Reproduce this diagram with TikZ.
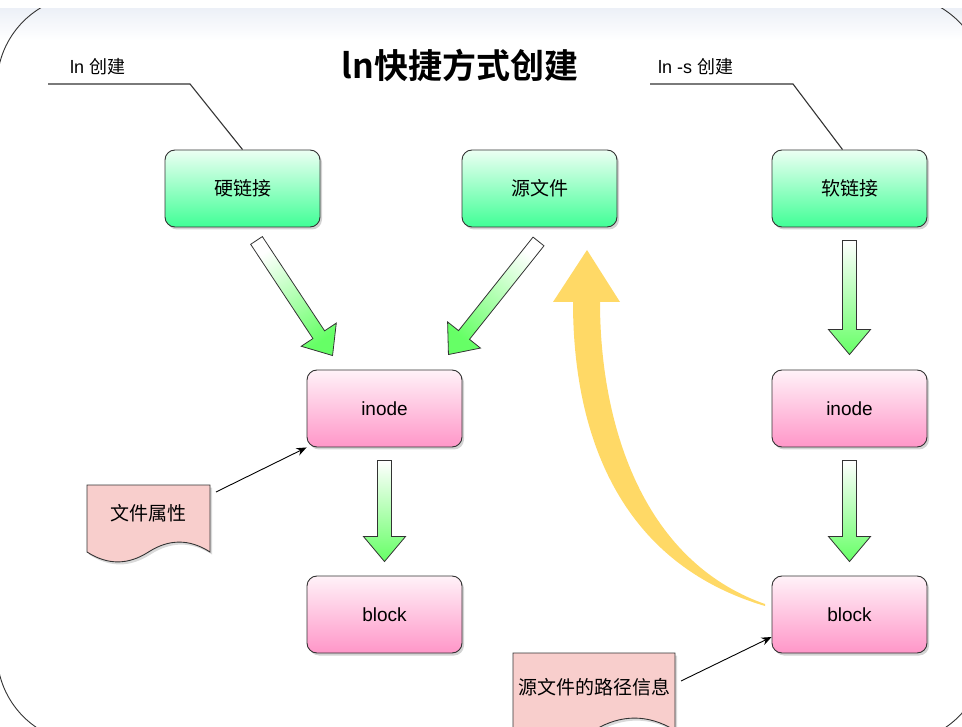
\documentclass[tikz,border=0pt]{standalone}
\usepackage{fontspec}
\setmainfont{Liberation Sans}
\newfontfamily\cjk{Noto Sans CJK SC}[BoldFont={Noto Sans CJK SC Bold}]
\usetikzlibrary{calc,shadows,arrows.meta}
\definecolor{gtop}{RGB}{236,255,243}
\definecolor{gbot}{RGB}{64,255,150}
\definecolor{ptop}{RGB}{255,242,248}
\definecolor{pbot}{RGB}{255,150,200}
\definecolor{agreen}{RGB}{102,255,102}
\definecolor{docfill}{RGB}{248,206,204}
\definecolor{yel}{RGB}{255,217,102}
\definecolor{edge}{RGB}{51,51,51}
\definecolor{band}{RGB}{236,240,247}
\tikzset{
  box/.style={rectangle, rounded corners=10pt, draw=edge, line width=0.9pt,
    minimum width=155pt, minimum height=77pt, inner sep=0pt,
    font=\fontsize{19}{19}\selectfont,
    drop shadow={shadow xshift=2pt, shadow yshift=-2.5pt, opacity=0.35}},
  gbox/.style={box, top color=gtop, bottom color=gbot},
  pbox/.style={box, top color=ptop, bottom color=pbot},
  garrowst/.style={draw=edge, line width=0.8pt, shading=axis, top color=white, bottom color=agreen},
  docst/.style={draw=edge, line width=0.9pt, fill=docfill,
    drop shadow={shadow xshift=2pt, shadow yshift=-2.5pt, opacity=0.3}},
  doctext/.style={font=\fontsize{19}{19}\selectfont\cjk, inner sep=0pt},
  leader/.style={draw=edge, line width=1.1pt},
  thinarrow/.style={draw=black, line width=0.9pt, -{Stealth[length=10pt,width=8pt]}},
  lbl/.style={font=\fontsize{18}{18}\selectfont, inner sep=0pt, anchor=west}
}
\newcommand\garrow[3]{%
  \coordinate (ga) at #1;
  \coordinate (gb) at #2;
  \coordinate (gh) at ($(gb)!25pt!(ga)$);
  \path[garrowst, shading angle=#3]
    ($(ga)!7pt!90:(gb)$) -- ($(gh)!7pt!90:(gb)$) -- ($(gh)!21pt!90:(gb)$) -- (gb)
    -- ($(gh)!21pt!-90:(gb)$) -- ($(gh)!7pt!-90:(gb)$) -- ($(ga)!7pt!-90:(gb)$) -- cycle;
}
\begin{document}
\begin{tikzpicture}[x=1pt,y=-1pt]
\useasboundingbox (0,0) rectangle (962,727);
% window band
\shade[top color=band, bottom color=white, draw=none] (0,8) rectangle (962,40);
\draw[edge, line width=0.9pt, rounded corners=90pt] (-3,-5) rectangle (985,743);
\fill[white] (0,0) rectangle (962,8);

% title
\node[font=\fontsize{34}{34}\selectfont\cjk\bfseries, inner sep=0pt] (title) at (460,65) {ln快捷方式创建};

% boxes
\node[gbox] (hard) at (242.5,188.5) {\cjk 硬链接};
\node[gbox] (src)  at (539.5,188.5) {\cjk 源文件};
\node[gbox] (soft) at (849.5,188.5) {\cjk 软链接};
\node[pbox] (inodeL) at (384.5,408.5) {inode};
\node[pbox] (blockL) at (384.5,614.5) {block};
\node[pbox] (inodeR) at (849.5,408.5) {inode};
\node[pbox] (blockR) at (849.5,614.5) {block};

% labels with leaders
\node[lbl] (lblL) at (70,67) {ln {\cjk 创建}};
\node[lbl] (lblR) at (658,67) {ln -s {\cjk 创建}};
\coordinate (l1a) at (48,84);
\coordinate (l1b) at (190,84);
\coordinate (l2a) at (650,84);
\coordinate (l2b) at (793,84);
\draw[leader] (l1a) -- (l1b) -- (hard.north);
\draw[leader] (l2a) -- (l2b) -- ($(soft.north)+(-7,0)$);

% green block arrows
\garrow{($(hard.south)+(14,13)$)}{($(inodeL.north west)+(26,-14)$)}{33.4}
\garrow{($(src.south)+(-1,14)$)}{($(inodeL.north east)+(-14,-15)$)}{-38.4}
\garrow{($(soft.south)+(0,13)$)}{($(inodeR.north)+(0,-15)$)}{0}
\garrow{($(inodeL.south)+(0,13)$)}{($(blockL.north)+(0,-14)$)}{0}
\garrow{($(inodeR.south)+(0,13)$)}{($(blockR.north)+(0,-14)$)}{0}

% yellow curved arrow
\fill[yel] (765,606) .. controls (610,560) and (573,420) .. (573,302)
  -- (553,302) -- (587,250) -- (620,302) -- (600,302)
  .. controls (600,420) and (640,560) .. (765,604) -- cycle;

% documents
\path[docst] (87,485) -- (210,485) -- (210,552)
  .. controls (189.5,538.8) and (169,538.8) .. (148.5,552)
  .. controls (128,565.2) and (107.5,565.2) .. (87,552) -- cycle;
\node[doctext] (doc1) at (148.5,513) {文件属性};
\path[docst] (513,653) -- (675,653) -- (675,730.35)
  .. controls (648,714) and (621,714) .. (594,730.35)
  .. controls (567,746.7) and (540,746.7) .. (513,730.35) -- cycle;
\node[doctext] (doc2) at (594,687) {源文件的路径信息};

% thin arrows
\coordinate (d1) at (216,492);
\coordinate (d2) at (681,681);
\draw[thinarrow] (d1) -- (inodeL.south west);
\draw[thinarrow] (d2) -- ($(blockR.west)+(0,22.5)$);
\end{tikzpicture}
\end{document}
